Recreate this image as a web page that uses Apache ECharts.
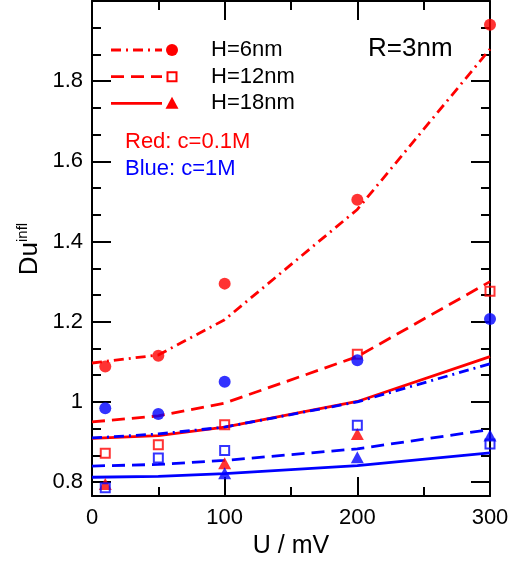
<!DOCTYPE html>
<html>
<head>
<meta charset="utf-8">
<script src="https://cdn.jsdelivr.net/npm/echarts@6/dist/echarts.min.js"></script>
<style>html,body{margin:0;padding:0;background:#fff;}#c{width:513px;height:564px;}</style>
</head>
<body>
<div id="c"></div>
<script>
// ---- data ----
const U_THEORY = [0, 50, 100, 200, 300];
const U_POINTS = [10, 50, 100, 200, 300];

const red_H6_line  = [1.097, 1.117, 1.205, 1.480, 1.880];
const red_H12_line = [0.950, 0.965, 0.997, 1.113, 1.300];
const red_H18_line = [0.909, 0.916, 0.937, 1.001, 1.113];
const blue_H6_line  = [0.910, 0.920, 0.937, 1.000, 1.095];
const blue_H12_line = [0.840, 0.844, 0.854, 0.883, 0.931];
const blue_H18_line = [0.812, 0.814, 0.821, 0.841, 0.873];

const red_H6_pts  = [1.088, 1.115, 1.295, 1.504, 1.941];
const red_H12_pts = [0.872, 0.893, 0.943, 1.119, 1.276];
const red_H18_pts = [0.795, null, 0.847, 0.920, null];
const blue_H6_pts  = [0.984, 0.970, 1.050, 1.104, 1.207];
const blue_H12_pts = [0.786, 0.860, 0.879, 0.942, 0.895];
const blue_H18_pts = [null, null, 0.822, 0.862, 0.916];

const X_MAJOR = [0, 100, 200, 300];
const X_MINOR = [50, 150, 250];
const Y_MAJOR = [0.8, 1.0, 1.2, 1.4, 1.6, 1.8, 2.0];
const Y_LABELS = [0.8, 1, 1.2, 1.4, 1.6, 1.8];

// ---- helpers ----
const FONT = '"Liberation Sans", Arial, Helvetica, sans-serif';
const RED = '#ff0000', BLUE = '#0000ff';
const Y_MINOR = [];
for (let i = 0; i < Y_MAJOR.length - 1; i++) {
  const a = Y_MAJOR[i], b = Y_MAJOR[i + 1];
  Y_MINOR.push(+(a + (b - a) / 3).toFixed(4), +(a + 2 * (b - a) / 3).toFixed(4));
}
function pairs(xs, ys) {
  const out = [];
  xs.forEach((x, i) => { if (ys[i] !== null && ys[i] !== undefined) out.push([x, ys[i]]); });
  return out;
}
const DASHDOT = [10, 5, 2, 5];
const DASH = [13, 7];

function lineSeries(ys, color, type) {
  return {
    type: 'line', data: pairs(U_THEORY, ys), symbol: 'none', silent: true,
    lineStyle: { color: color, width: 2.8, type: type }, z: 2
  };
}
function scatterSeries(ys, color, shape) {
  const base = { type: 'scatter', data: pairs(U_POINTS, ys), clip: false, silent: true, z: 3 };
  if (shape === 'circle') {
    return Object.assign(base, { symbol: 'circle', symbolSize: 12, itemStyle: { color: color } });
  } else if (shape === 'rect') {
    return Object.assign(base, { symbol: 'rect', symbolSize: 9,
      itemStyle: { color: 'rgba(255,255,255,0)', borderColor: color, borderWidth: 2 } });
  } else {
    return Object.assign(base, { symbol: 'triangle', symbolSize: [13, 12], itemStyle: { color: color } });
  }
}

function xAx(pos, vals, len, showLine, showLabel, name) {
  return {
    type: 'value', position: pos, min: 0, max: 300, gridIndex: 0,
    axisLine: { show: showLine, onZero: false, lineStyle: { color: '#000', width: 2 } },
    axisTick: { show: true, inside: true, length: len, customValues: vals, lineStyle: { color: '#000', width: 2 } },
    axisLabel: { show: showLabel, customValues: X_MAJOR, color: '#000', fontSize: 22, fontFamily: FONT, margin: 11 },
    splitLine: { show: false },
    name: name || '', nameLocation: 'middle', nameGap: 36,
    nameTextStyle: { color: '#000', fontSize: 25, fontFamily: FONT }
  };
}
function yAx(pos, vals, len, showLine, showLabel) {
  return {
    type: 'value', position: pos, min: 0.765, max: 2.0, gridIndex: 0,
    axisLine: { show: showLine, onZero: false, lineStyle: { color: '#000', width: 2 } },
    axisTick: { show: true, inside: true, length: len, customValues: vals, lineStyle: { color: '#000', width: 2 } },
    axisLabel: { show: showLabel, customValues: Y_LABELS, color: '#000', fontSize: 22, fontFamily: FONT, margin: 9 },
    splitLine: { show: false }
  };
}

// ---- legend & annotations (graphic) ----
const LX1 = 111, LX2 = 162, LM = 172, LT = 211;
const rows = [50, 76.7, 103.3];
const graphic = [
  { type: 'line', shape: { x1: LX1, y1: rows[0], x2: LX2, y2: rows[0] }, style: { stroke: RED, lineWidth: 2.8, lineDash: DASHDOT } },
  { type: 'circle', shape: { cx: LM, cy: rows[0], r: 6 }, style: { fill: RED } },
  { type: 'text', style: { text: 'H=6nm', x: LT, y: rows[0], verticalAlign: 'middle', fill: '#000', fontSize: 22, fontFamily: FONT } },
  { type: 'line', shape: { x1: LX1, y1: rows[1], x2: LX2, y2: rows[1] }, style: { stroke: RED, lineWidth: 2.8, lineDash: DASH } },
  { type: 'rect', shape: { x: LM - 4.5, y: rows[1] - 4.5, width: 9, height: 9 }, style: { fill: 'none', stroke: RED, lineWidth: 2 } },
  { type: 'text', style: { text: 'H=12nm', x: LT, y: rows[1], verticalAlign: 'middle', fill: '#000', fontSize: 22, fontFamily: FONT } },
  { type: 'line', shape: { x1: LX1, y1: rows[2], x2: LX2, y2: rows[2] }, style: { stroke: RED, lineWidth: 2.8 } },
  { type: 'polygon', shape: { points: [[LM, rows[2] - 6.5], [LM + 6.5, rows[2] + 5.5], [LM - 6.5, rows[2] + 5.5]] }, style: { fill: RED } },
  { type: 'text', style: { text: 'H=18nm', x: LT, y: rows[2], verticalAlign: 'middle', fill: '#000', fontSize: 22, fontFamily: FONT } },
  { type: 'text', style: { text: 'Red: c=0.1M', x: 125, y: 141.7, verticalAlign: 'middle', fill: RED, fontSize: 22, fontFamily: FONT } },
  { type: 'text', style: { text: 'Blue: c=1M', x: 125, y: 169.3, verticalAlign: 'middle', fill: BLUE, fontSize: 22, fontFamily: FONT } },
  { type: 'text', style: { text: 'R=3nm', x: 368, y: 48.5, verticalAlign: 'middle', fill: '#000', fontSize: 26, fontFamily: FONT } },
  { type: 'text', x: 30, y: 249, rotation: Math.PI / 2,
    style: {
      text: '{a|Du}{b|infl}', align: 'center', verticalAlign: 'middle', fill: '#000',
      rich: {
        a: { fontSize: 26, fontFamily: FONT, fill: '#000', lineHeight: 30 },
        b: { fontSize: 15, fontFamily: FONT, fill: '#000', verticalAlign: 'top', lineHeight: 16 }
      }
    } }
];

const option = {
  animation: false,
  backgroundColor: '#fff',
  grid: { left: 92, top: 1, right: 23, bottom: 67, containLabel: false },
  xAxis: [
    xAx('bottom', X_MAJOR, 19, true, true, 'U / mV'),
    xAx('bottom', X_MINOR, 9, false, false),
    xAx('top', X_MAJOR, 19, true, false),
    xAx('top', X_MINOR, 9, false, false)
  ],
  yAxis: [
    yAx('left', Y_MAJOR, 19, true, true),
    yAx('left', Y_MINOR, 9, false, false),
    yAx('right', Y_MAJOR, 19, true, false),
    yAx('right', Y_MINOR, 9, false, false)
  ],
  series: [
    lineSeries(red_H6_line, RED, DASHDOT),
    lineSeries(red_H12_line, RED, DASH),
    lineSeries(red_H18_line, RED, 'solid'),
    lineSeries(blue_H6_line, BLUE, DASHDOT),
    lineSeries(blue_H12_line, BLUE, DASH),
    lineSeries(blue_H18_line, BLUE, 'solid'),
    scatterSeries(red_H6_pts, RED, 'circle'),
    scatterSeries(red_H12_pts, RED, 'rect'),
    scatterSeries(red_H18_pts, RED, 'triangle'),
    scatterSeries(blue_H6_pts, BLUE, 'circle'),
    scatterSeries(blue_H12_pts, BLUE, 'rect'),
    scatterSeries(blue_H18_pts, BLUE, 'triangle')
  ],
  graphic: graphic
};
const chart = echarts.init(document.getElementById('c'), null, { renderer: 'canvas' });
chart.setOption(option);
</script>
</body>
</html>
